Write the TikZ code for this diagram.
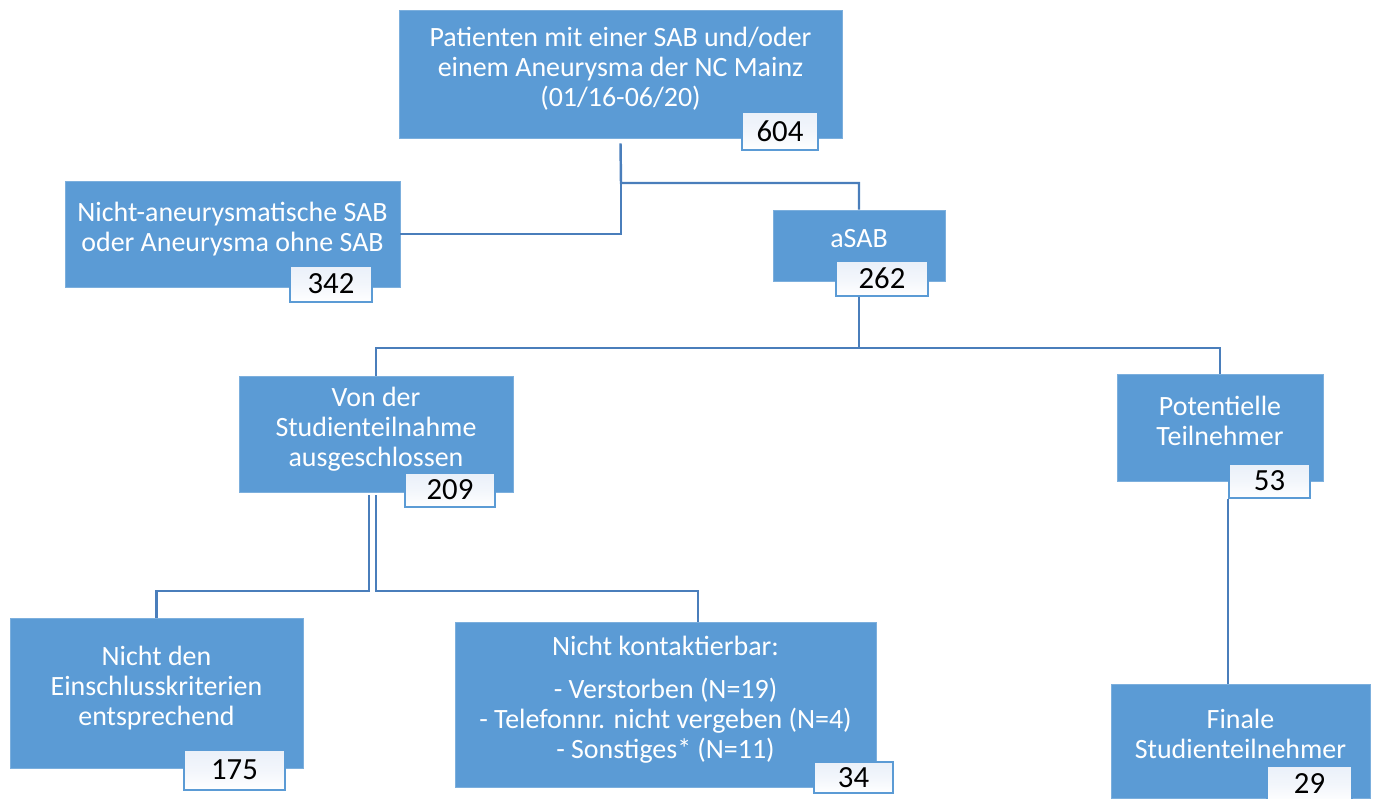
\documentclass[tikz,border=0pt]{standalone}
\usepackage{fontspec}
\setmainfont{Carlito}
\usetikzlibrary{calc}
\definecolor{boxblue}{HTML}{5B9BD5}
\definecolor{lineblue}{HTML}{4A7EBB}
\definecolor{numtop}{HTML}{EAF0F9}

\begin{document}
\begin{tikzpicture}[x=0.02cm,y=-0.02cm,
    box/.style={fill=boxblue, draw=boxblue!80!white, text=white, align=center, inner sep=0pt,
      font=\fontsize{15.9}{17.2}\selectfont, text depth=0.28cm},
    num/.style={draw=boxblue, line width=0.9pt, top color=numtop, bottom color=white, middle color=numtop!60!white,
      inner sep=0pt, font=\fontsize{17.5}{18}\selectfont, text=black},
    link/.style={draw=lineblue, line width=1.4pt}]
    \useasboundingbox (0,0) rectangle (1376,798);
    % Boxes
    \node[box, minimum width=8.86cm, minimum height=2.56cm] (top) at (620.5,74)
      {Patienten mit einer SAB und/oder\\einem Aneurysma der NC Mainz\\(01/16-06/20)};
    \node[box, minimum width=6.7cm, minimum height=2.12cm] (nonan) at (232.5,234)
      {Nicht-aneurysmatische SAB\\oder Aneurysma ohne SAB};
    \node[box, minimum width=3.44cm, minimum height=1.42cm] (asab) at (859,245.5) {aSAB};
    \node[box, minimum width=5.48cm, minimum height=2.32cm] (vonder) at (376,434)
      {Von der\\Studienteilnahme\\ausgeschlossen};
    \node[box, minimum width=4.12cm, minimum height=2.14cm] (pot) at (1220,427.5)
      {Potentielle\\Teilnehmer};
    \node[box, minimum width=5.86cm, minimum height=3.0cm] (nichtden) at (156.5,693)
      {Nicht den\\Einschlusskriterien\\entsprechend};
    \node[box, minimum width=8.42cm, minimum height=3.3cm] (kontakt) at (665.5,704.5)
      {Nicht kontaktierbar:\\[0.24cm]- Verstorben (N=19)\\- Telefonnr. nicht vergeben (N=4)\\- Sonstiges* (N=11)};
    \node[box, minimum width=5.18cm, minimum height=2.28cm] (finale) at (1240.5,741)
      {Finale\\Studienteilnehmer};
    % Numbers
    \node[num, minimum width=1.52cm, minimum height=0.76cm] (n604) at (780,131) {604};
    \node[num, minimum width=1.64cm, minimum height=0.72cm] (n342) at (331,284) {342};
    \node[num, minimum width=1.84cm, minimum height=0.70cm] (n262) at (882,278.5) {262};
    \node[num, minimum width=1.80cm, minimum height=0.68cm] (n209) at (450,490) {209};
    \node[num, minimum width=1.62cm, minimum height=0.68cm] (n53) at (1269.5,481) {53};
    \node[num, minimum width=2.02cm, minimum height=0.80cm] (n175) at (234.5,770) {175};
    \node[num, minimum width=1.58cm, minimum height=0.62cm] (n34) at (853.5,777.5) {34};
    \node[num, minimum width=1.70cm, minimum height=0.72cm] (n29) at (1309.5,784) {29};
    % Connectors
    \coordinate (j1) at (621,183);
    \coordinate (j2) at (asab.south |- 0,348);
    \coordinate (j3) at (vonder.south |- 0,591);
    \draw[link] ([yshift=-0.1cm]top.south) -- (j1) -| (asab.north);
    \draw[link] (j1) |- (nonan.east);
    \draw[link] (asab.south |- n262.south) -- (j2) -| (vonder.north);
    \draw[link] (j2) -| (pot.north);
    \draw[link] ([xshift=-0.14cm,yshift=-0.06cm]vonder.south) -- ([xshift=-0.14cm]j3) -| (nichtden.north);
    \draw[link] ([yshift=-0.06cm]vonder.south) -- (j3) -| ([xshift=0.65cm]kontakt.north);
    \draw[link] (n53.south west) -- (n53.south west |- finale.north);
\end{tikzpicture}
\end{document}
